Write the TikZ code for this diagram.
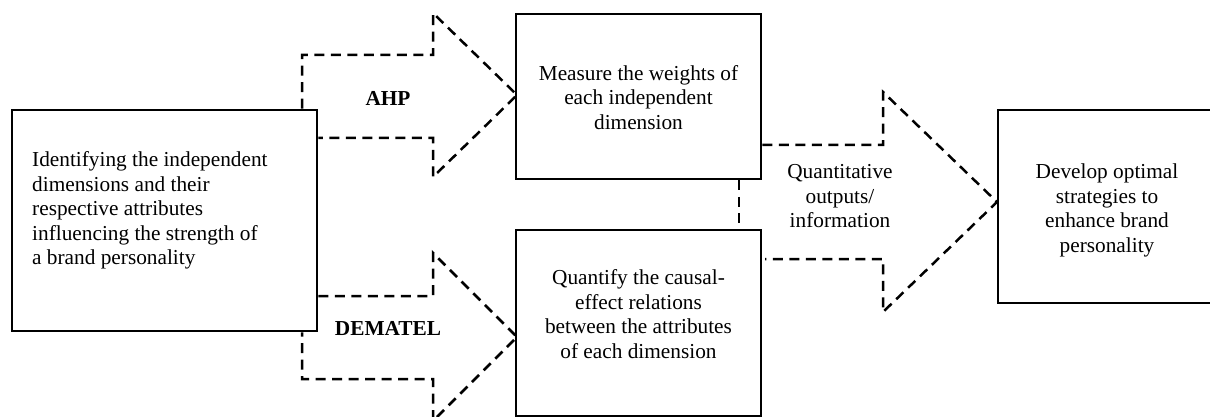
\documentclass[tikz,border=0pt]{standalone}
\usepackage{fontspec}
\setmainfont{Liberation Serif}
\begin{document}
\begin{tikzpicture}[x=1pt,y=-1pt,
  box/.style={draw=black,line width=2.9pt,minimum width=#1,inner sep=0pt},
  lbl/.style={font=\fontsize{21.3}{24.5}\selectfont,inner sep=0pt,align=center},
  blbl/.style={font=\fontsize{21.3}{24.5}\selectfont\bfseries,inner sep=0pt},
  darrow/.style={draw=black,line width=2.5pt,dash pattern=on 10pt off 6.5pt},
]
\useasboundingbox (0,0) rectangle (1210,417);
\clip (0,0) rectangle (1210,417);
% boxes
\node[box=305pt,minimum height=221pt] (b1) at (164.5,220.5) {};
\node[box=245pt,minimum height=165pt] (b2) at (638.5,96.5) {};
\node[box=245pt,minimum height=186pt] (b3) at (638.5,323) {};
\node[box=222pt,minimum height=193pt] (b4) at (1109,206.5) {};
% texts
\node[lbl,align=left,anchor=west] (t1) at (32,210.5) {Identifying the independent\\dimensions and their\\respective attributes\\influencing the strength of\\a brand personality};
\node[lbl] (t2) at (638.5,97.5) {Measure the weights of\\each independent\\dimension};
\node[lbl] (t3) at (638.5,314) {Quantify the causal-\\effect relations\\between the attributes\\of each dimension};
\node[lbl] (t4) at (1107,210.5) {Develop optimal\\strategies to\\enhance brand\\personality};
\node[lbl] (t5) at (840,196.5) {Quantitative\\outputs/\\information};
\node[blbl] (ahp) at (388,98) {AHP};
\node[blbl] (dem) at (388,328) {DEMATEL};
% AHP arrow
\draw[darrow] (302,0 |- b1.north) -- (302,55) -- (433,55) -- (433,13) -- (517,95) -- (433,177) -- (433,138) -- (b1.east |- 0,138);
% DEMATEL arrow
\draw[darrow] (b1.east |- 0,296) -- (433,296) -- (433,253) -- (517,337) -- (433,421) -- (433,379) -- (302,379) -- (302,0 |- b1.south);
% right arrow
\draw[darrow] (b2.east |- 0,145) -- (883,145) -- (883,92) -- (997,202) -- (883,312) -- (883,259) -- (765,259);
% link between b2 and b3
\draw[darrow] (739,0 |- b2.south) -- (739,0 |- b3.north);
\end{tikzpicture}
\end{document}
